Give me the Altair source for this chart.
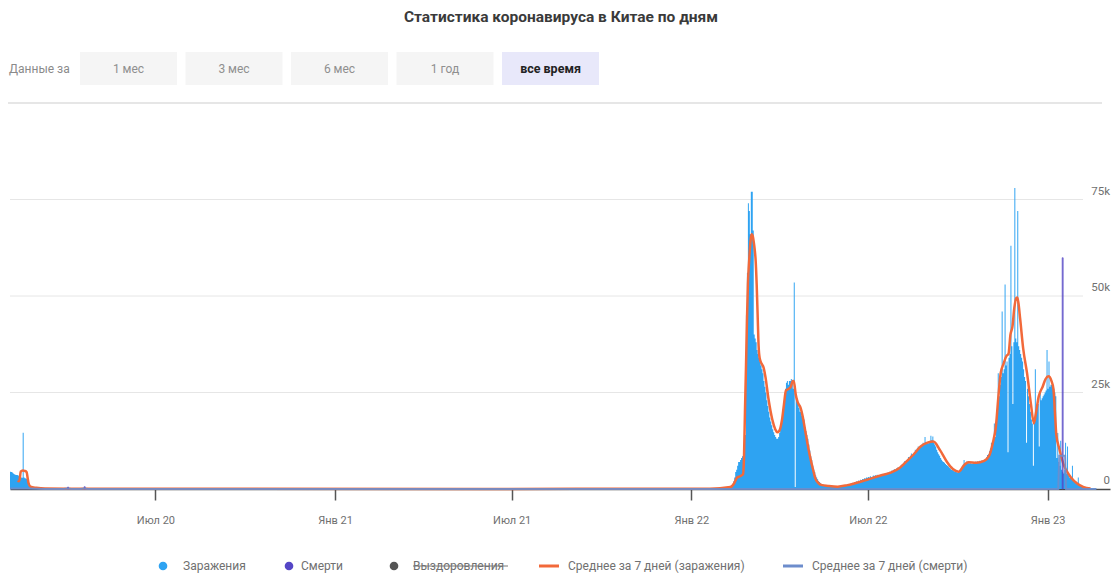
import altair as alt
import pandas as pd

FONT = "Roboto"

TITLE = "Статистика коронавируса в Китае по дням"
PERIOD_LABEL = "Данные за"
PERIOD_BUTTONS = ["1 мес", "3 мес", "6 мес", "1 год", "все время"]
LEGEND_LABELS = ["Заражения", "Смерти", "Выздоровления",
                 "Среднее за 7 дней (заражения)", "Среднее за 7 дней (смерти)"]

# Daily new infections, thousands
cases_2020_start = "2020-02-03"
cases_2020 = [4.5, 4.4, 4.3, 4.0, 3.8, 3.7, 3.6,
              3.6, 3.5, 3.3, 3.1, 3.0, 2.9, 14.6,
              3.0, 2.8, 2.7, 2.6, 2.4, 0.9, 0.6,
              0.5, 0.4, 0.4, 0.3, 0.3, 0.2, 0.2,
              0.2, 0.1, 0.1, 0.1, 0.1, 0.1, 0.05,
              0.05, 0.05, 0.04, 0.03, 0.03, 0.02, 0.0]

cases_2022_start = "2022-02-01"
cases_2022 = [0.1, 0.1, 0.1, 0.1, 0.1, 0.1, 0.2,
              0.2, 0.3, 0.4, 0.6, 1.0, 2.0, 3.0,
              4.4, 5.0, 6.0, 7.0, 7.0, 7.5, 8.0,
              8.5, 9.5, 11, 14, 45, 56, 74,
              72, 66, 77, 77, 67, 40, 39,
              38, 36, 35, 34, 33, 32, 31,
              30, 28, 26.5, 25, 23, 21.5, 20,
              18.5, 17.5, 16.5, 15.5, 14.7, 14, 13.5,
              13, 13, 13.5, 14.5, 16, 17, 18,
              20, 23, 26, 27.5, 28, 27, 28,
              28, 28.5, 27.5, 26, 53.5, 0.5, 24,
              23.5, 22, 21, 20, 20, 19, 18.5,
              18, 16, 15, 14, 13, 11.5, 10,
              8.5, 7.5, 6, 5, 4.4, 3.5, 3,
              2.5, 2, 1.8, 1.5, 1.3, 1.2, 1.1,
              1, 1, 0.9, 0.9, 0.8, 0.8, 0.7,
              0.7, 0.6, 0.6, 0.6, 0.5, 0.5, 0.5,
              0.5, 0.5, 0.5, 0.6, 0.6, 0.7, 0.7,
              0.8, 0.9, 1.1, 0.9, 1.2, 1.1, 1.4,
              1.3, 1.6, 1.5, 1.8, 1.7, 2.0, 1.9,
              2.2, 2.1, 2.4, 2.3, 2.6, 2.5, 2.8,
              2.7, 3.0, 2.9, 3.1, 3.0, 3.3, 3.1,
              3.2, 3.5, 3.3, 3.6, 3.4, 3.7, 3.5,
              3.6, 3.4, 3.8, 3.5, 3.9, 3.7, 4.0,
              4.1, 3.9, 4.3, 4.2, 4.5, 4.4, 4.8,
              4.7, 5.0, 5.2, 4.9, 5.4, 5.6, 5.3,
              5.7, 6.0, 6.3, 6.1, 6.8, 7.2, 7.0,
              7.5, 7.8, 8.3, 8.0, 8.6, 9.2, 8.8,
              9.0, 9.5, 10.2, 9.8, 10.5, 11.0, 10.6,
              10.8, 11.2, 11.5, 12.0, 11.6, 13.5, 12.2,
              12.0, 11.8, 12.4, 12.2, 13.8, 12.6, 13.6,
              12.0, 11.5, 11.0, 10.2, 9.5, 9.0, 8.6,
              8.0, 7.6, 7.2, 7.0, 6.8, 6.5, 6.2,
              6.0, 5.8, 5.5, 5.3, 5.0, 4.9, 4.7,
              4.6, 4.5, 4.4, 4.3, 4.5, 4.4, 4.8,
              5.2, 5.8, 6.3, 7.5, 6.6, 6.8, 7.2,
              6.7, 7.0, 6.6, 6.9, 6.5, 6.7, 7.0,
              6.8, 7.1, 6.9, 7.2, 7.0, 7.3, 7.1,
              7.4, 7.2, 7.5, 7.6, 7.8, 8.2, 8.8,
              9.0, 9.8, 10.5, 12.0, 11.0, 12.5, 17.0,
              13.5, 16.0, 20.0, 30.0, 24.0, 27.0, 29.0,
              46, 30, 31, 53, 32, 33, 9.5,
              34, 35, 63, 37, 22, 38, 78,
              39, 38, 72, 37, 36, 35, 34,
              33, 31, 29, 28, 12, 26, 24,
              22, 20, 18, 17, 6, 18, 31,
              20, 21, 22, 11, 25, 23, 23.5,
              24, 24.5, 25, 25.5, 36, 26, 33,
              26.5, 27, 27, 27, 26, 25, 24,
              8, 14.5, 7, 6, 12.5, 5, 4.5,
              4, 5, 12, 4, 11, 3.5, 3,
              3, 2.5, 6, 2.5, 2, 1.8, 1.5,
              1.5, 3, 1.2, 1, 0.9, 0.8, 0.7,
              0.6, 0.5, 0.4, 0.3, 0.3, 0.2, 0.2,
              0.2, 0.1, 0.1, 0.1, 0.1, 0.1, 0.0]

# 7-day average of infections, thousands
avg_dates = ["2020-02-11", "2020-02-12", "2020-02-13", "2020-02-14", "2020-02-16",
             "2020-02-18", "2020-02-20", "2020-02-21", "2020-02-22", "2020-02-24",
             "2020-03-01", "2020-03-10", "2020-04-01", "2021-06-01", "2022-01-20",
             "2022-02-10", "2022-02-14", "2022-02-17", "2022-02-20", "2022-02-23",
             "2022-02-24", "2022-02-25", "2022-02-26", "2022-02-27", "2022-02-28",
             "2022-03-01", "2022-03-02", "2022-03-03", "2022-03-04", "2022-03-05",
             "2022-03-06", "2022-03-07", "2022-03-08", "2022-03-09", "2022-03-10",
             "2022-03-11", "2022-03-12", "2022-03-14", "2022-03-16", "2022-03-18",
             "2022-03-21", "2022-03-25", "2022-03-28", "2022-03-30", "2022-04-01",
             "2022-04-04", "2022-04-06", "2022-04-08", "2022-04-11", "2022-04-13",
             "2022-04-15", "2022-04-16", "2022-04-18", "2022-04-20", "2022-04-23",
             "2022-04-25", "2022-04-28", "2022-05-01", "2022-05-03", "2022-05-06",
             "2022-05-08", "2022-05-11", "2022-05-15", "2022-05-21", "2022-05-31",
             "2022-06-10", "2022-06-25", "2022-07-14", "2022-07-25", "2022-08-03",
             "2022-08-11", "2022-08-17", "2022-08-24", "2022-08-31", "2022-09-06",
             "2022-09-13", "2022-09-20", "2022-09-26", "2022-10-02", "2022-10-08",
             "2022-10-12", "2022-10-20", "2022-10-28", "2022-11-02", "2022-11-06",
             "2022-11-09", "2022-11-12", "2022-11-14", "2022-11-17", "2022-11-20",
             "2022-11-22", "2022-11-24", "2022-11-26", "2022-11-28", "2022-11-30",
             "2022-12-01", "2022-12-02", "2022-12-04", "2022-12-07", "2022-12-11",
             "2022-12-15", "2022-12-18", "2022-12-20", "2022-12-23", "2022-12-27",
             "2022-12-30", "2023-01-02", "2023-01-05", "2023-01-07", "2023-01-09",
             "2023-01-10", "2023-01-13", "2023-01-18", "2023-01-21", "2023-01-25",
             "2023-01-31", "2023-02-07", "2023-02-14"]
avg_values = [2.2, 2.0, 2.6, 4.5, 4.8,
              4.7, 4.4, 3.0, 1.5, 0.6,
              0.3, 0.1, 0.05, 0.03, 0.05,
              0.5, 1.5, 3.0, 3.3, 3.8,
              8, 20, 31, 43, 53,
              58, 62, 65, 66, 65.5,
              64, 62, 59, 53, 45,
              37, 34, 32.5, 31.5, 29,
              23.5, 18, 15.5, 14.7, 15,
              18, 22, 25.5, 26, 26.5,
              28, 28, 24.5, 22.5, 21,
              19, 14.7, 10.5, 8, 4.8,
              2.8, 1.6, 1.0, 0.8, 0.6,
              1.0, 2.0, 3.5, 4.3, 5.6,
              7.5, 9.0, 11, 12, 12.3,
              10, 7, 5.2, 4.5, 6.3,
              6.9, 6.8, 7.3, 8.5, 12,
              16, 25, 30, 32.5, 34.5,
              35, 40, 42, 47, 49.5,
              49.6, 48.5, 44, 36.5, 30,
              22, 17, 19.5, 24, 26.5,
              28.5, 29.2, 28, 26, 18,
              14, 10.5, 6, 4.5, 3,
              1.5, 0.5, 0.1]

# Daily deaths, thousands
death_dates = ["2020-04-02", "2020-04-19", "2023-01-16"]
death_values = [0.5, 0.6, 59.9]

# 7-day average of deaths, thousands
death_avg_dates = ["2020-02-03", "2020-02-20", "2020-03-10", "2020-03-29", "2020-04-02",
                   "2020-04-06", "2020-04-15", "2020-04-19", "2020-04-23", "2023-01-12",
                   "2023-01-13", "2023-01-19", "2023-01-20", "2023-02-20"]
death_avg_values = [0.1, 0.1, 0.02, 0.0, 0.12,
                    0.0, 0.0, 0.15, 0.0, 0.0,
                    8.6, 8.6, 0.0, 0.0]

y_ticks = [0, 25, 50, 75]
x_tick_months = [(2020, 7), (2021, 1), (2021, 7), (2022, 1), (2022, 7), (2023, 1)]

C_CASES = "#2ea3f2"
C_DEATHS = "#5546c6"
C_RECOVERED = "#555555"
C_AVG = "#f2693a"
C_DEATH_AVG = "#6d8dcc"
C_TEXT = "#707070"


def daily_frame(start, values):
    return pd.DataFrame({"date": pd.date_range(start, periods=len(values), freq="D"),
                         "value": values})


cases = pd.concat([daily_frame(cases_2020_start, cases_2020),
                   daily_frame(cases_2022_start, cases_2022)], ignore_index=True)
avg = pd.DataFrame({"date": pd.to_datetime(avg_dates), "value": avg_values})
deaths = pd.DataFrame({"date": pd.to_datetime(death_dates), "value": death_values})
deaths["end"] = deaths["date"] + pd.Timedelta(days=1)
death_avg = pd.DataFrame({"date": pd.to_datetime(death_avg_dates), "value": death_avg_values})
ticks = pd.DataFrame({"value": y_ticks})

W, H = 1100, 386

x_scale = alt.Scale(domain=[alt.DateTime(year=2020, month=2, date=3),
                            alt.DateTime(year=2023, month=3, date=6)])
y_scale = alt.Scale(domain=[0, 100], nice=False)

x_axis = alt.Axis(
    values=[alt.DateTime(year=y, month=m, date=1) for y, m in x_tick_months],
    labelExpr="(month(datum.value) == 0 ? 'Янв ' : 'Июл ') + timeFormat(datum.value, '%y')",
    title=None, grid=False, domainColor="#4a4a4a", domainWidth=1.5,
    tickColor="#555555", tickWidth=1.5, tickSize=11, labelPadding=14,
    labelFont=FONT, labelFontSize=11, labelColor=C_TEXT, labelFlush=False,
)


def xy():
    # every time-based layer shares the same x axis definition
    return dict(x=alt.X("date:T", scale=x_scale, axis=x_axis),
                y=alt.Y("value:Q", scale=y_scale, axis=None))


layers = []

# horizontal gridlines
layers.append(alt.Chart(ticks).transform_filter("datum.value > 0").mark_rule(
    color="#e6e6e6", strokeWidth=1).encode(
    y=alt.Y("value:Q", scale=y_scale, axis=None),
    x=alt.value(0), x2=alt.value(1073)))

# separator under the period selector
layers.append(alt.Chart(pd.DataFrame({"v": [0]})).mark_rule(color="#e6e6e6", strokeWidth=2).encode(
    y=alt.value(0), x=alt.value(-2), x2=alt.value(1092)))

# daily infections
layers.append(alt.Chart(cases).mark_area(interpolate="step-after", color=C_CASES).encode(**xy()))

# 7-day average of infections
layers.append(alt.Chart(avg).mark_line(interpolate="monotone", color=C_AVG, strokeWidth=2.5).encode(**xy()))

# daily deaths
layers.append(alt.Chart(deaths).mark_bar(color=C_DEATHS, stroke=C_DEATHS, strokeWidth=0.8, opacity=0.85).encode(
    x2="end:T", y2=alt.datum(0), **xy()))

# 7-day average of deaths
layers.append(alt.Chart(death_avg).mark_line(color=C_DEATH_AVG, strokeWidth=2, opacity=0.9).encode(**xy()))

# value labels sitting just above each gridline, right-aligned
layers.append(alt.Chart(ticks).transform_calculate(
    label="datum.value == 0 ? '0' : datum.value + 'k'").mark_text(
    font=FONT, fontSize=11.5, color=C_TEXT, align="right", baseline="bottom", dy=-3).encode(
    y=alt.Y("value:Q", scale=y_scale, axis=None), x=alt.value(1100), text="label:N"))


def text_layer(label, x, y, size=12, color=C_TEXT, weight="normal", align="left"):
    return alt.Chart(pd.DataFrame({"label": [label]})).mark_text(
        font=FONT, fontSize=size, color=color, fontWeight=weight,
        align=align, baseline="middle").encode(
        text="label:N", x=alt.value(x), y=alt.value(y))


# title
layers.append(text_layer(TITLE, 551, -86, size=15.5, color="#3a3a3a", weight="bold", align="center"))

# period selector
layers.append(text_layer(PERIOD_LABEL, -1, -34, size=12, color="#8a8a8a"))
for i, label in enumerate(PERIOD_BUTTONS):
    x0 = 70 + i * 105.5
    active = label == "все время"
    layers.append(alt.Chart(pd.DataFrame({"label": [label]})).mark_rect(
        color="#e8e8fa" if active else "#f5f5f5").encode(
        x=alt.value(x0), x2=alt.value(x0 + 97), y=alt.value(-51), y2=alt.value(-18)))
    layers.append(text_layer(label, x0 + 48.5, -34, size=12 if not active else 12.5,
                             color="#222222" if active else "#8f8f8f",
                             weight="bold" if active else "normal", align="center"))

# legend
LY = 463
legend_points = [(153, C_CASES), (279, C_DEATHS), (384, C_RECOVERED)]
for (px, col), label, tx in zip(legend_points, LEGEND_LABELS[:3], [173, 291, 403]):
    layers.append(alt.Chart(pd.DataFrame({"label": [label]})).mark_point(
        filled=True, shape="circle", size=75, color=col, opacity=1).encode(
        x=alt.value(px), y=alt.value(LY)))
    layers.append(text_layer(label, tx, LY))
# hidden series is struck through
layers.append(alt.Chart(pd.DataFrame({"v": [0]})).mark_rule(color="#777777", strokeWidth=1).encode(
    x=alt.value(403), x2=alt.value(498), y=alt.value(LY)))
for (x0, col), label in zip([(529, C_AVG), (773, C_DEATH_AVG)], LEGEND_LABELS[3:]):
    layers.append(alt.Chart(pd.DataFrame({"v": [0]})).mark_rule(color=col, strokeWidth=3).encode(
        x=alt.value(x0), x2=alt.value(x0 + 20), y=alt.value(LY)))
    layers.append(text_layer(label, x0 + 29, LY))

chart = alt.layer(*layers).properties(
    width=W, height=H,
    padding={"left": 10, "top": 103, "right": 8, "bottom": 90},
    autosize=alt.AutoSizeParams(type="none"),
).configure_view(stroke=None)

chart.save("out.html", embed_options={"renderer": "svg", "actions": False})
